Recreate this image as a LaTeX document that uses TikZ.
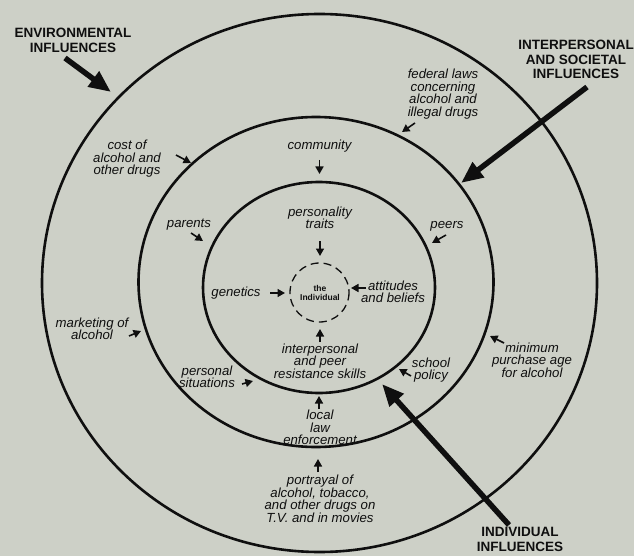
\documentclass[tikz,border=0pt]{standalone}
\usepackage{fontspec}
\setmainfont{Liberation Sans}
\usetikzlibrary{arrows.meta}
\definecolor{bg}{RGB}{205,208,199}
\definecolor{ink}{RGB}{15,15,15}
\begin{document}
\begin{tikzpicture}[x=1pt,y=-1pt,
 lbl/.style={font=\fontsize{13.2}{12.5}\selectfont\itshape, align=center, inner sep=0pt, text=ink},
 biglbl/.style={font=\fontsize{13.5}{14.5}\selectfont\bfseries, align=center, inner sep=0pt, text=ink},
 ring/.style={draw=ink, line width=2.6pt},
 smallarrow/.style={draw=ink, -{Triangle[length=7.5pt,width=8pt]}, line width=1.6pt},
 bigarrow/.style={draw=ink, -{Triangle[length=22pt,width=18pt]}, line width=5.5pt}]
\fill[bg] (0,0) rectangle (634,556);
\useasboundingbox (0,0) rectangle (634,556);

% rings
\draw[ring] (319.5,283) ellipse [x radius=277.5, y radius=269];
\draw[ring] (316,282) ellipse [x radius=177.5, y radius=165];
\draw[ring] (319,287.5) ellipse [x radius=116, y radius=105.5];
\draw[draw=ink, line width=1.3pt, dash pattern=on 8pt off 5pt] (319.5,292.5) circle [radius=29.5];

% center
\node[font=\fontsize{8.5}{9}\selectfont\bfseries, align=center, inner sep=0pt, text=ink] (ind) at (320,292.5) {the\\Individual};

% big labels
\node[biglbl] (env) at (73,40.5) {ENVIRONMENTAL\\INFLUENCES};
\node[biglbl] (inter) at (576,59.5) {INTERPERSONAL\\AND SOCIETAL\\INFLUENCES};
\node[biglbl] (indiv) at (520,539.5) {INDIVIDUAL\\INFLUENCES};

\coordinate (envT) at (65,58);   \coordinate (envH) at (111,92);
\coordinate (intT) at (587,87);  \coordinate (intH) at (461,183);
\coordinate (indT) at (509,525); \coordinate (indH) at (382,384);
\draw[bigarrow] (envT) -- (envH);
\draw[bigarrow] (intT) -- (intH);
\draw[bigarrow] (indT) -- (indH);

% small labels
\node[lbl] (fed) at (443,94) {federal laws\\concerning\\alcohol and\\illegal drugs};
\node[lbl] (cost) at (127,159) {cost of\\alcohol and\\other drugs};
\node[lbl] (comm) at (319.5,146) {community};
\node[lbl] (pers) at (320,218) {personality\\traits};
\node[lbl] (par) at (189,225) {parents};
\node[lbl] (peer) at (447,226) {peers};
\node[lbl] (gen) at (236,293) {genetics};
\node[lbl] (att) at (393,292) {attitudes\\and beliefs};
\node[lbl] (ips) at (320,361) {interpersonal\\and peer\\resistance skills};
\node[lbl] (sch) at (431,370) {school\\policy};
\node[lbl] (min) at (532,360) {minimum\\purchase age\\for alcohol};
\node[lbl] (mkt) at (92,329) {marketing of\\alcohol};
\node[lbl] (psit) at (207,377) {personal\\situations};
\node[lbl] (loc) at (320,427.5) {local\\law\\enforcement};
\node[lbl] (port) at (320,499) {portrayal of\\alcohol, tobacco,\\and other drugs on\\T.V. and in movies};

% small arrows
\coordinate (a1) at (415,123); \coordinate (b1) at (402,132);
\coordinate (a2) at (176,155); \coordinate (b2) at (191,163);
\coordinate (a3) at (319.5,160); \coordinate (b3) at (319.5,174);
\coordinate (a4) at (320,241); \coordinate (b4) at (320,256);
\coordinate (a5) at (191,233); \coordinate (b5) at (203,241);
\coordinate (a6) at (446,235); \coordinate (b6) at (432,243);
\coordinate (a7) at (270,293); \coordinate (b7) at (285,293);
\coordinate (a8) at (366,288); \coordinate (b8) at (351,288);
\coordinate (a9) at (320,342); \coordinate (b9) at (320,329);
\coordinate (a10) at (411,376); \coordinate (b10) at (399,369);
\coordinate (a11) at (504,343); \coordinate (b11) at (490,336);
\coordinate (a12) at (129,336); \coordinate (b12) at (141,331);
\coordinate (a13) at (242,384); \coordinate (b13) at (253,381);
\coordinate (a14) at (319,409); \coordinate (b14) at (319,396);
\coordinate (a15) at (318,472); \coordinate (b15) at (318,459);
\foreach \i in {1,...,15} {\draw[smallarrow] (a\i) -- (b\i);}
\end{tikzpicture}
\end{document}
